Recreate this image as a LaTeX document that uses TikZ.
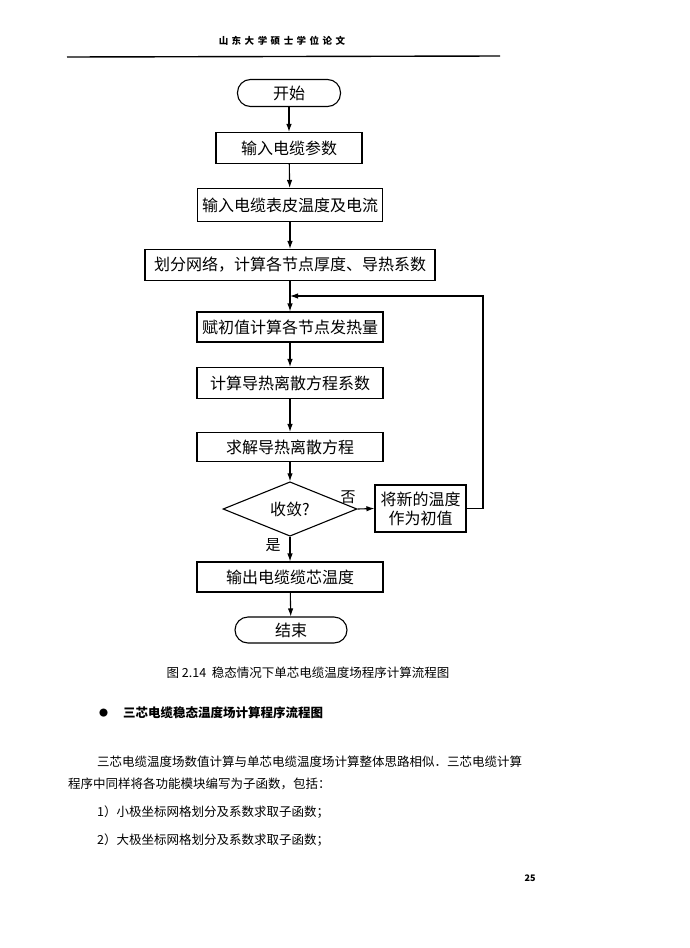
\documentclass[tikz,border=0pt]{standalone}
\usepackage{fontspec}
\setmainfont{Noto Sans CJK SC}
\usepackage{tikz}
\usetikzlibrary{arrows.meta, positioning, shapes.geometric}

\begin{document}
\begin{tikzpicture}[
  x=1pt, y=-1pt,
  flow/.style={draw, line width=1.1pt, -{Latex[length=8pt,width=5.5pt]}},
  line/.style={draw, line width=1.1pt},
  procbox/.style={draw, line width=1.1pt, rectangle, inner sep=0pt,
                  minimum height=31pt, font=\fontsize{16}{19}\selectfont},
  terminal/.style={draw, line width=1.1pt, rectangle, rounded corners=13pt,
                   inner sep=0pt, minimum height=27pt, font=\fontsize{16}{19}\selectfont},
  decision/.style={draw, line width=1.1pt, diamond, inner sep=0pt,
                   minimum width=134pt, minimum height=50pt, font=\fontsize{16}{19}\selectfont},
  lbl/.style={inner sep=0pt, font=\fontsize{15}{17}\selectfont},
  bodytext/.style={inner sep=0pt, anchor=west, font=\fontsize{12.5}{15}\selectfont},
]
  \useasboundingbox (0,0) rectangle (690,948);

  % Page header
  \node[inner sep=0pt, font=\fontsize{9.5}{11}\bfseries] (header) at (282,41)
    {山\hspace{3.5pt}东\hspace{3.5pt}大\hspace{3.5pt}学\hspace{3.5pt}硕\hspace{3.5pt}士\hspace{3.5pt}学\hspace{3.5pt}位\hspace{3.5pt}论\hspace{3.5pt}文};
  \draw[line width=1.4pt] (67,57) -- (500,56);

  % Start
  \node[terminal, minimum width=103pt] (start) at (289,93) {开始};

  % Inputs
  \node[procbox, minimum width=146pt] (param) at (289,148) {输入电缆参数};
  \node[procbox, minimum width=185pt, minimum height=33pt] (surface) at (290,205) {输入电缆表皮温度及电流};

  % Grid
  \node[procbox, minimum width=290pt] (grid) at (290,265) {划分网络，计算各节点厚度、导热系数};

  % Iteration
  \coordinate (loop) at (290,296);
  \node[procbox, minimum width=186pt, minimum height=30pt] (assign) at (290,327) {赋初值计算各节点发热量};
  \node[procbox, minimum width=186pt] (coeff) at (290,383) {计算导热离散方程系数};
  \node[procbox, minimum width=186pt, minimum height=29pt] (solve) at (290,447) {求解导热离散方程};
  \node[decision] (conv) at (290,509) {收敛?};
  \node[procbox, minimum width=91pt, minimum height=47pt, align=center] (newval) at (420.5,508.5)
    {将新的温度\\作为初值};
  \coordinate (back) at (483,296);

  % Output and end
  \node[procbox, minimum width=186pt, minimum height=30pt] (output) at (290,577) {输出电缆缆芯温度};
  \node[terminal, minimum width=112pt, minimum height=26pt] (stop) at (291,630) {结束};

  % Branch labels
  \node[lbl] (no) at (348,497) {否};
  \node[lbl] (yes) at (273,545) {是};

  % Main arrows
  \draw[flow] (start) -- (param);
  \draw[flow] (param) -- (surface);
  \draw[flow] (surface) -- (grid);
  \draw[flow] (grid) -- (assign);
  \draw[flow] (assign) -- (coeff);
  \draw[flow] (coeff) -- (solve);
  \draw[flow] (solve) -- (conv);
  \draw[flow] (conv) -- (output);
  \draw[flow] (output) -- (stop);

  % Not converged -> feedback
  \draw[flow] (conv.east) -- (newval.west);
  \draw[flow] (newval.east) -| (back) -- (loop);

  % Caption
  \node[inner sep=0pt, font=\fontsize{12.5}{15}\selectfont] (caption) at (308,673)
    {图 2.14\ \ 稳态情况下单芯电缆温度场程序计算流程图};

  % Section text
  \node[bodytext, font=\fontsize{9}{10}\selectfont] (bullet) at (99,713) {●};
  \node[bodytext, font=\fontsize{12.5}{15}\bfseries] (heading) at (123,713) {三芯电缆稳态温度场计算程序流程图};
  \node[bodytext] (para1) at (97,762) {三芯电缆温度场数值计算与单芯电缆温度场计算整体思路相似．三芯电缆计算};
  \node[bodytext] (para2) at (68,784) {程序中同样将各功能模块编写为子函数，包括：};
  \node[bodytext] (item1) at (97,812) {1）小极坐标网格划分及系数求取子函数；};
  \node[bodytext] (item2) at (97,840) {2）大极坐标网格划分及系数求取子函数；};

  % Page number
  \node[inner sep=0pt, font=\fontsize{9}{10}\bfseries] (pagenum) at (530,878) {25};
\end{tikzpicture}
\end{document}
